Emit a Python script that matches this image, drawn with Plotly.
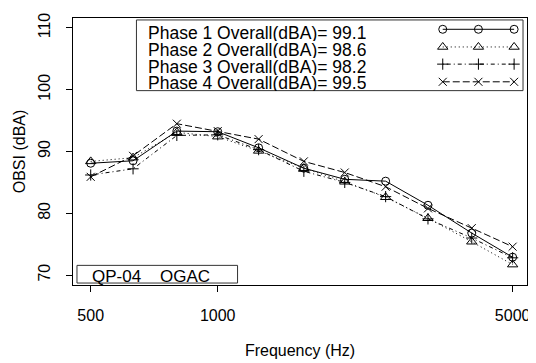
import plotly.graph_objects as go

# 1/3 octave band centre frequencies (Hz)
freq = [500, 630, 800, 1000, 1250, 1600, 2000, 2500, 3150, 4000, 5000]

phase1 = [88.1, 88.5, 93.3, 93.2, 90.6, 87.3, 85.5, 85.2, 81.3, 76.8, 72.9]
phase2 = [88.4, 89.0, 93.1, 92.4, 90.1, 87.3, 85.1, 82.6, 79.2, 75.4, 71.7]
phase3 = [86.2, 87.2, 92.6, 92.7, 90.3, 86.8, 85.0, 82.7, 79.1, 76.0, 72.8]
phase4 = [85.9, 89.3, 94.5, 93.3, 92.0, 88.4, 86.6, 84.3, 80.8, 77.6, 74.6]

overall = [99.1, 98.6, 98.2, 99.5]
names = ["Phase 1", "Phase 2", "Phase 3", "Phase 4"]
site_label = "QP-04\u00a0\u00a0\u00a0\u00a0OGAC"

x_ticks = [500, 1000, 5000]
y_ticks = [70, 80, 90, 100, 110]

FONT = "Liberation Sans, Arial, sans-serif"

# R-ish line types: solid, dotted, dotdash, longdash
styles = [
    dict(symbol="circle-open", size=8, dash="solid"),
    dict(symbol="triangle-up-open", size=9, dash="1px,3px"),
    dict(symbol="cross-thin-open", size=8, dash="1px,3px,4px,3px"),
    dict(symbol="x-thin-open", size=8, dash="7px,3px"),
]

fig = go.Figure()

for name, ys, st in zip(names, [phase1, phase2, phase3, phase4], styles):
    fig.add_trace(go.Scatter(
        x=freq, y=ys, mode="lines+markers", name=name,
        line=dict(color="black", width=1, dash=st["dash"]),
        marker=dict(symbol=st["symbol"], size=st["size"], color="black",
                    line=dict(color="black", width=1)),
        showlegend=False,
    ))

# page is offset by the default 8px body margin
OFF = 8
# plot area in page pixels: left 73, right 531, top 13, bottom 285
L, R, T, B = 73, 531, 13, 285

# hand-drawn legend on a pixel overlay axis (text left, keys right)
key_x = [446, 482, 518]
text_y = [28.5, 45.5, 62.5, 79.5]
key_y = [24.5, 42.5, 60.0, 78.0]
for i, st in enumerate(styles):
    fig.add_trace(go.Scatter(
        x=key_x, y=[key_y[i]] * 3, xaxis="x2", yaxis="y2",
        mode="lines+markers", showlegend=False, hoverinfo="skip",
        line=dict(color="black", width=1, dash=st["dash"]),
        marker=dict(symbol=st["symbol"], size=st["size"], color="black",
                    line=dict(color="black", width=1)),
    ))

shapes = [
    dict(type="rect", xref="x2", yref="y2", x0=137, x1=527, y0=15, y1=87,
         line=dict(color="#333", width=1), fillcolor="rgba(0,0,0,0)"),
    dict(type="rect", xref="x2", yref="y2", x0=77, x1=239, y0=265, y1=283,
         line=dict(color="#333", width=1), fillcolor="rgba(0,0,0,0)"),
]

annotations = []
for i, (name, v) in enumerate(zip(names, overall)):
    annotations.append(dict(
        x=148, y=text_y[i], xref="x2", yref="y2", xanchor="left", yanchor="middle",
        text=f"{name} Overall(dBA)= {v}", showarrow=False,
        height=16, valign="middle", borderpad=0,
        font=dict(size=17.5, color="black", family=FONT),
    ))
annotations.append(dict(
    x=90, y=276, xref="x2", yref="y2", xanchor="left", yanchor="middle",
    text=site_label, showarrow=False,
    font=dict(size=17, color="black", family=FONT),
))

fig.update_layout(
    width=536 - OFF, height=363 - OFF,
    margin=dict(l=L - OFF, r=536 - R, t=T - OFF, b=363 - B),
    paper_bgcolor="white", plot_bgcolor="white",
    font=dict(family=FONT, size=16, color="black"),
    shapes=shapes, annotations=annotations,
    xaxis=dict(
        type="log", range=[2.657, 3.733],
        tickvals=x_ticks, ticktext=[str(t) for t in x_ticks],
        ticks="outside", ticklen=6, tickcolor="black", tickwidth=1,
        showline=True, linecolor="black", linewidth=1, mirror=True,
        showgrid=False, zeroline=False,
        title=dict(text="Frequency (Hz)", standoff=21, font=dict(size=16)),
        tickfont=dict(size=16), ticklabelstandoff=10,
    ),
    yaxis=dict(
        range=[68.4, 111.6], tickvals=y_ticks, tickangle=-90,
        ticks="outside", ticklen=6, tickcolor="black", tickwidth=1,
        showline=True, linecolor="black", linewidth=1, mirror=True,
        showgrid=False, zeroline=False,
        title=dict(text="OBSI (dBA)", standoff=5, font=dict(size=16)),
        tickfont=dict(size=16), ticklabelstandoff=10,
    ),
    xaxis2=dict(range=[L, R], overlaying="x", visible=False, fixedrange=True),
    yaxis2=dict(range=[B, T], overlaying="y", visible=False, fixedrange=True),
)

fig.write_html("out.html")
